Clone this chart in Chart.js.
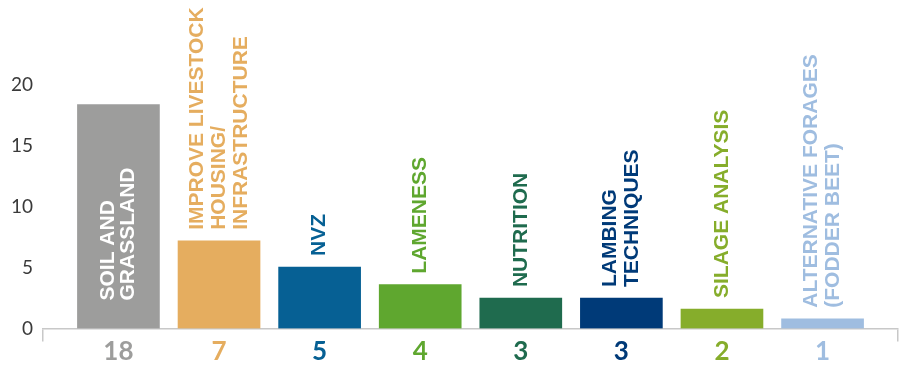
<!DOCTYPE html>
<html><head><meta charset="utf-8">
<script src="https://cdn.jsdelivr.net/npm/chart.js@4/dist/chart.umd.min.js"></script>
<style>html,body{margin:0;padding:0;background:#fff}#wrap{width:899px;height:369px}</style>
</head><body><div id="wrap"><canvas id="c"></canvas></div>
<script>
const categories = [
  ['SOIL AND', 'GRASSLAND'],
  ['IMPROVE LIVESTOCK', 'HOUSING/', 'INFRASTRUCTURE'],
  ['NVZ'],
  ['LAMENESS'],
  ['NUTRITION'],
  ['LAMBING', 'TECHNIQUES'],
  ['SILAGE ANALYSIS'],
  ['ALTERNATIVE FORAGES', '(FODDER BEET)']
];
const values = [18.4, 7.2, 5.05, 3.6, 2.5, 2.5, 1.6, 0.8];
const countLabels = ['18', '7', '5', '4', '3', '3', '2', '1'];
const yTicks = [0, 5, 10, 15, 20];
const barColors = ['#9d9d9c', '#e5ad5f', '#066094', '#5fa72f', '#1f6b4e', '#003a78', '#86ad2b', '#9fbde0'];

const labelPlugin = {
  id: 'barLabels',
  afterDatasetsDraw(chart) {
    const ctx = chart.ctx;
    const meta = chart.getDatasetMeta(0);
    const lh = 22;
    meta.data.forEach((bar, i) => {
      const lines = categories[i];
      const inside = values[i] >= 10;
      const start = inside ? bar.base - 28 : bar.y - 11;
      ctx.save();
      ctx.translate(bar.x, start);
      ctx.rotate(-Math.PI / 2);
      ctx.font = 'bold 21px "Liberation Sans"';
      ctx.fillStyle = inside ? '#ffffff' : barColors[i];
      ctx.textAlign = 'left';
      ctx.textBaseline = 'middle';
      const n = lines.length;
      lines.forEach((t, k) => {
        ctx.fillText(t, 0, (k - (n - 1) / 2) * (inside ? 20 : lh));
      });
      ctx.restore();
    });
  }
};

const endTicks = [-0.75, 7.75];
new Chart(document.getElementById('c'), {
  type: 'bar',
  data: {
    datasets: [{
      data: values.map((v, i) => ({ x: i, y: v })),
      backgroundColor: barColors,
      barThickness: 82,
      borderWidth: 0
    }]
  },
  options: {
    responsive: true,
    maintainAspectRatio: false,
    animation: false,
    events: [],
    layout: { padding: { top: 85, right: 1, left: 0, bottom: 0 } },
    plugins: { legend: { display: false }, tooltip: { enabled: false } },
    scales: {
      x: {
        type: 'linear',
        offset: false,
        bounds: 'data',
        min: endTicks[0],
        max: endTicks[1],
        afterBuildTicks(scale) {
          const t = [endTicks[0]];
          categories.forEach((c, i) => t.push(i));
          t.push(endTicks[1]);
          scale.ticks = t.map(v => ({ value: v }));
        },
        afterFit(scale) { scale.height = 40.5; },
        border: { display: true, color: '#c8c8c8', width: 1.5 },
        grid: {
          offset: false,
          drawOnChartArea: false,
          drawTicks: true,
          tickLength: 13,
          lineWidth: 1.5,
          color: (c) => (c.tick && (c.tick.value === endTicks[0] || c.tick.value === endTicks[1])) ? '#c8c8c8' : 'rgba(0,0,0,0)'
        },
        ticks: {
          autoSkip: false,
          maxRotation: 0,
          padding: -3,
          font: { family: 'Lato', weight: 'bold', size: 26, lineHeight: 1 },
          color: (c) => (c.tick && Number.isInteger(c.tick.value) && c.tick.value >= 0) ? barColors[c.tick.value] : '#000',
          callback: (v) => (Number.isInteger(v) && v >= 0 && v < countLabels.length) ? countLabels[v] : ''
        }
      },
      y: {
        min: 0,
        max: 20,
        afterBuildTicks(scale) { scale.ticks = yTicks.map(v => ({ value: v })); },
        afterFit(scale) { scale.width = 43; },
        border: { display: false },
        grid: { display: false, drawTicks: false },
        ticks: {
          padding: 10,
          color: '#3a3a3a',
          font: { family: 'Lato', size: 19 },
          callback: (v) => String(v)
        }
      }
    }
  },
  plugins: [labelPlugin]
});
</script></body></html>
